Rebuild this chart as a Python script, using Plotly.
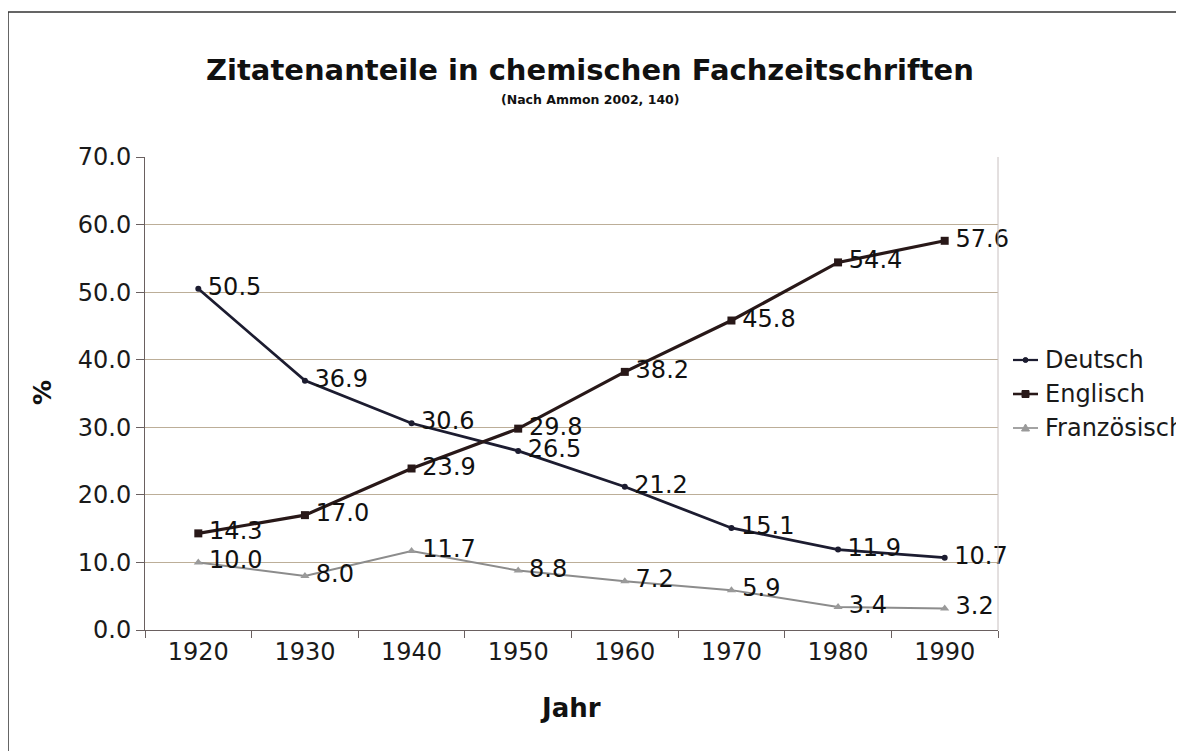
import plotly.graph_objects as go

years = [1920, 1930, 1940, 1950, 1960, 1970, 1980, 1990]
deutsch = [50.5, 36.9, 30.6, 26.5, 21.2, 15.1, 11.9, 10.7]
englisch = [14.3, 17.0, 23.9, 29.8, 38.2, 45.8, 54.4, 57.6]
franz = [10.0, 8.0, 11.7, 8.8, 7.2, 5.9, 3.4, 3.2]
y_ticks = [0, 10, 20, 30, 40, 50, 60, 70]
series_names = ["Deutsch", "Englisch", "Französisch"]

FONT = "DejaVu Sans"
LBL = 24

# page offset (browser body margin) compensation
OFF = 8
L, R, T, B = 145 - OFF, 998 - OFF, 157 - OFF, 630 - OFF
W, H = 1184, 751


def px(X):
    return (X - OFF - L) / (R - L)


def py(Y):
    return (B - (Y - OFF)) / (B - T)


colors = ["#1c1c30", "#281818", "#8c8c8c"]
mcolors = ["#1c1c30", "#281818", "#9a9a9a"]
widths = [2.8, 3.2, 2.0]
symbols = ["circle", "square", "triangle-up"]
msizes = [6, 8, 8]
data = [deutsch, englisch, franz]

fig = go.Figure()
for name, vals, c, mc, w, s, ms in zip(series_names, data, colors, mcolors, widths, symbols, msizes):
    fig.add_trace(go.Scatter(
        x=years, y=vals, name=name, mode="lines+markers+text",
        line=dict(color=c, width=w),
        marker=dict(symbol=s, size=ms, color=mc),
        text=["\u2009" + f"{v:.1f}" for v in vals], textposition="middle right",
        textfont=dict(family=FONT, size=LBL, color="#111111"),
        cliponaxis=False,
        showlegend=False,
    ))

# manual legend (so it does not push the plot margins)
legend_rows = [360, 394, 428]
shapes = [
    dict(type="line", xref="paper", yref="paper", x0=1.0, x1=1.0, y0=0, y1=1,
         line=dict(color="#c8c0c0", width=1)),
    dict(type="rect", xref="paper", yref="paper",
         x0=px(8), x1=1.6, y0=-0.6, y1=py(12),
         line=dict(color="#333333", width=1.5), fillcolor="rgba(0,0,0,0)"),
]
annotations = []
for name, yrow, c, mc, w, s in zip(series_names, legend_rows, colors, mcolors, widths, symbols):
    shapes.append(dict(type="line", xref="paper", yref="paper",
                       x0=px(1013), x1=px(1038), y0=py(yrow), y1=py(yrow),
                       line=dict(color=c, width=w * 0.8)))
    cx, cy = 1025.5, yrow
    if s == "circle":
        shapes.append(dict(type="circle", xref="paper", yref="paper",
                           x0=px(cx - 2.5), x1=px(cx + 2.5), y0=py(cy + 2.5), y1=py(cy - 2.5),
                           line=dict(color=mc, width=1), fillcolor=mc))
    elif s == "square":
        shapes.append(dict(type="rect", xref="paper", yref="paper",
                           x0=px(cx - 3.5), x1=px(cx + 3.5), y0=py(cy + 3.5), y1=py(cy - 3.5),
                           line=dict(color=mc, width=1), fillcolor=mc))
    else:
        path = (f"M {px(cx - 4)} {py(cy + 3)} L {px(cx + 4)} {py(cy + 3)} "
                f"L {px(cx)} {py(cy - 4)} Z")
        shapes.append(dict(type="path", xref="paper", yref="paper", path=path,
                           line=dict(color=mc, width=1), fillcolor=mc))
    annotations.append(dict(text=name, xref="paper", yref="paper",
                            x=px(1043), y=py(yrow), xanchor="left", yanchor="middle",
                            showarrow=False,
                            font=dict(family=FONT, size=24, color="#1a1a1a")))

annotations += [
    dict(text="<b>Zitatenanteile in chemischen Fachzeitschriften</b>",
         xref="paper", yref="paper", x=px(590), y=py(70),
         xanchor="center", yanchor="middle", showarrow=False,
         font=dict(family=FONT, size=29, color="#111111")),
    dict(text="<b>(Nach Ammon 2002, 140)</b>",
         xref="paper", yref="paper", x=px(590), y=py(100),
         xanchor="center", yanchor="middle", showarrow=False,
         font=dict(family=FONT, size=12.5, color="#111111")),
    dict(text="<b>Jahr</b>",
         xref="paper", yref="paper", x=px(570), y=py(708),
         xanchor="center", yanchor="middle", showarrow=False,
         font=dict(family=FONT, size=26, color="#111111")),
    dict(text="<b>%</b>", textangle=-90,
         xref="paper", yref="paper", x=px(42), y=py(393),
         xanchor="center", yanchor="middle", showarrow=False,
         font=dict(family=FONT, size=25, color="#111111")),
]

fig.update_layout(
    width=W, height=H,
    margin=dict(l=L, r=W - R, t=T, b=H - B),
    paper_bgcolor="white", plot_bgcolor="white",
    font=dict(family=FONT, size=LBL, color="#1a1a1a"),
    showlegend=False,
    xaxis=dict(
        range=[1915, 1995], tickvals=years, ticktext=[str(y) for y in years],
        ticks="", showgrid=False, zeroline=False,
        showline=True, linecolor="#6a6060", linewidth=1, mirror=False,
        tickfont=dict(family=FONT, size=LBL, color="#1a1a1a"),
        minor=dict(tick0=1915, dtick=10, ticks="outside", ticklen=7,
                   tickcolor="#6a6060", showgrid=False),
    ),
    yaxis=dict(
        range=[0, 70], tickvals=y_ticks, tickformat=".1f",
        ticks="outside", ticklen=8, tickcolor="#6a6060",
        showgrid=True, gridcolor="#bcae98", gridwidth=1,
        zeroline=False, showline=True, linecolor="#6a6060", linewidth=1,
        tickfont=dict(family=FONT, size=LBL, color="#1a1a1a"),
    ),
    annotations=annotations,
    shapes=shapes,
)

fig.write_html("out.html")
